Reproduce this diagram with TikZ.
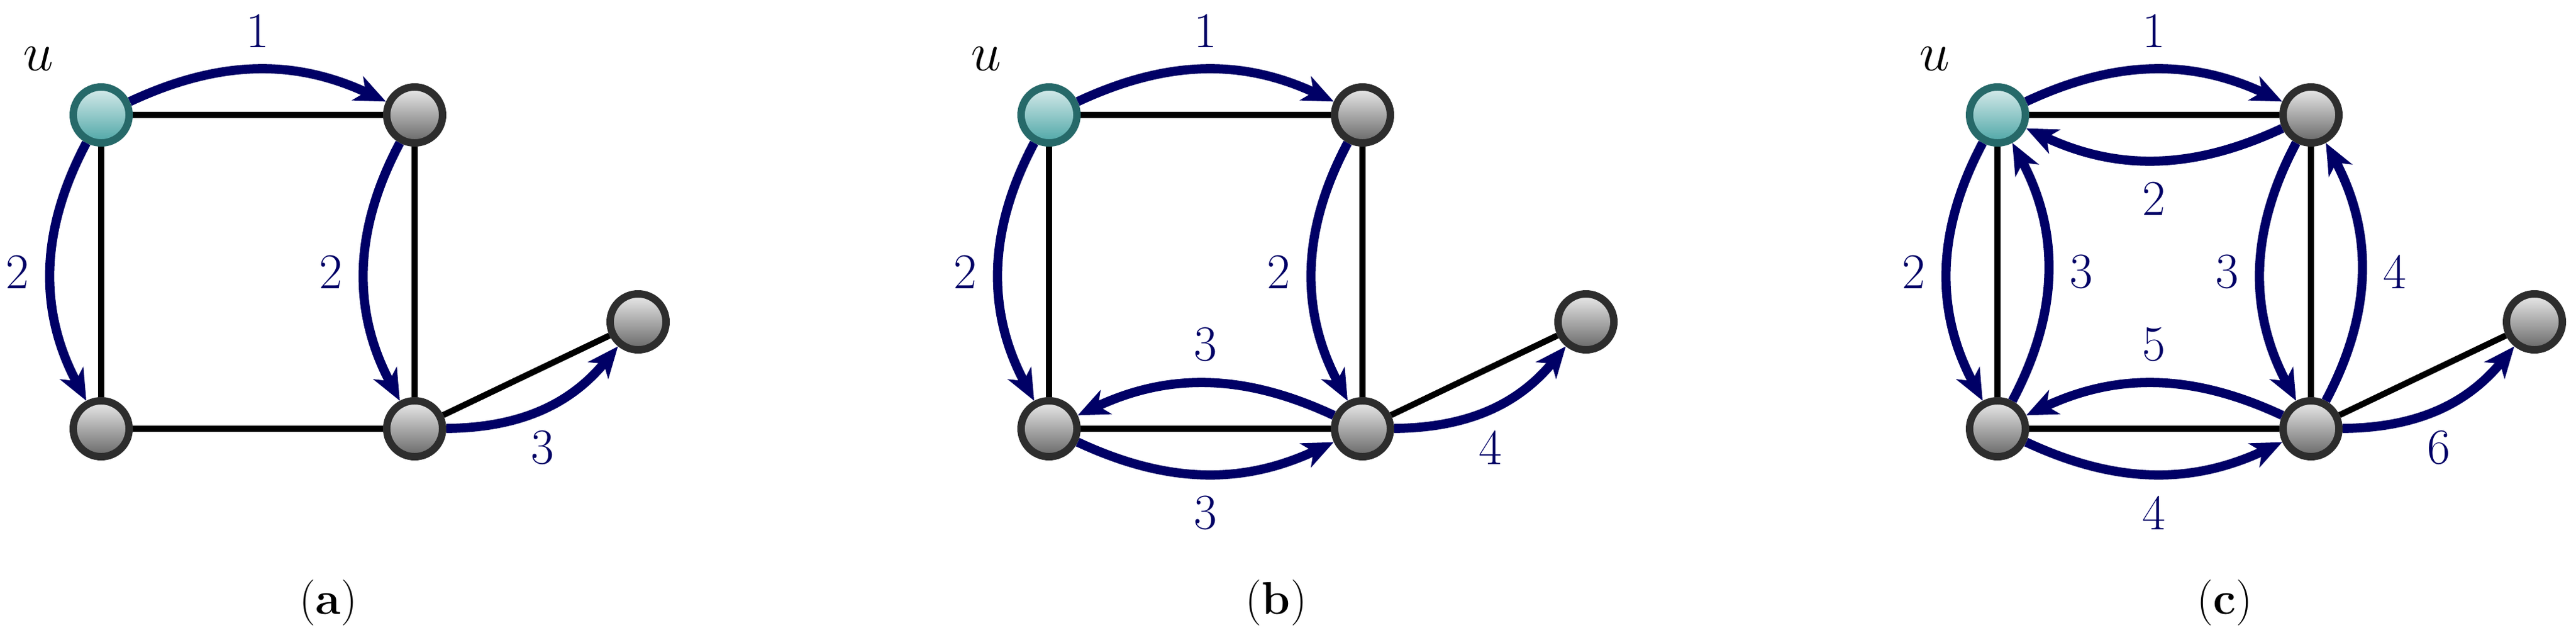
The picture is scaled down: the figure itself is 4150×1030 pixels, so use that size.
\documentclass[tikz,border=0pt]{standalone}
\usetikzlibrary{arrows.meta}
\definecolor{arr}{RGB}{0,0,102}
\definecolor{tealb}{RGB}{38,105,105}
\tikzset{
  vtx/.style={circle,minimum size=0.9cm,inner sep=0pt,line width=3.4pt,draw={rgb,255:red,45;green,45;blue,45},top color=gray!15,bottom color=gray!80!black},
  uvtx/.style={vtx,draw=tealb,top color=white!85!teal,bottom color=teal!70},
  ln/.style={line width=2.8pt,black},
  ar/.style={line width=4.2pt,arr,-{Stealth[length=0.5cm,width=0.42cm,inset=0.14cm]}},
  lab/.style={font=\fontsize{23}{28}\selectfont,inner sep=8pt},
  captxt/.style={font=\fontsize{21}{26}\selectfont}
}
\newcommand{\graphbase}{%
  \node[uvtx] (u) at (163,185) {};
  \node[vtx] (tr) at (668,185) {};
  \node[vtx] (bl) at (163,690) {};
  \node[vtx] (br) at (668,690) {};
  \node[vtx] (p) at (1028,518) {};
  \node[lab] (ul) at (62,95) {$u$};
  \draw[ln] (u) -- (tr);
  \draw[ln] (u) -- (bl);
  \draw[ln] (tr) -- (br);
  \draw[ln] (bl) -- (br);
  \draw[ln] (br) -- (p);
}
\begin{document}
\begin{tikzpicture}[x=0.01cm,y=-0.01cm]
\useasboundingbox (0,0) rectangle (4150,1030);
\begin{scope}
\graphbase
\draw[ar] (u) to[bend left=25] node[lab,midway,above] {1} (tr);
\draw[ar] (u) to[bend right=28] node[lab,midway,left] {2} (bl);
\draw[ar] (tr) to[bend right=28] node[lab,midway,left] {2} (br);
\draw[ar] (br) to[bend right=25] node[lab,midway,below] {3} (p);
\node[captxt] (ca) at (529,970) {(\textbf{a})};
\end{scope}
\begin{scope}[shift={(1527,0)}]
\graphbase
\draw[ar] (u) to[bend left=25] node[lab,midway,above] {1} (tr);
\draw[ar] (u) to[bend right=28] node[lab,midway,left] {2} (bl);
\draw[ar] (tr) to[bend right=28] node[lab,midway,left] {2} (br);
\draw[ar] (br) to[bend right=25] node[lab,midway,above] {3} (bl);
\draw[ar] (bl) to[bend right=25] node[lab,midway,below] {3} (br);
\draw[ar] (br) to[bend right=25] node[lab,midway,below] {4} (p);
\node[captxt] (cb) at (529,970) {(\textbf{b})};
\end{scope}
\begin{scope}[shift={(3055,0)}]
\graphbase
\draw[ar] (u) to[bend left=25] node[lab,midway,above] {1} (tr);
\draw[ar] (tr) to[bend left=25] node[lab,midway,below] {2} (u);
\draw[ar] (u) to[bend right=28] node[lab,midway,left] {2} (bl);
\draw[ar] (bl) to[bend right=28] node[lab,midway,right] {3} (u);
\draw[ar] (tr) to[bend right=28] node[lab,midway,left] {3} (br);
\draw[ar] (br) to[bend right=28] node[lab,midway,right] {4} (tr);
\draw[ar] (br) to[bend right=25] node[lab,midway,above] {5} (bl);
\draw[ar] (bl) to[bend right=25] node[lab,midway,below] {4} (br);
\draw[ar] (br) to[bend right=25] node[lab,midway,below] {6} (p);
\node[captxt] (cc) at (529,970) {(\textbf{c})};
\end{scope}
\end{tikzpicture}
\end{document}
